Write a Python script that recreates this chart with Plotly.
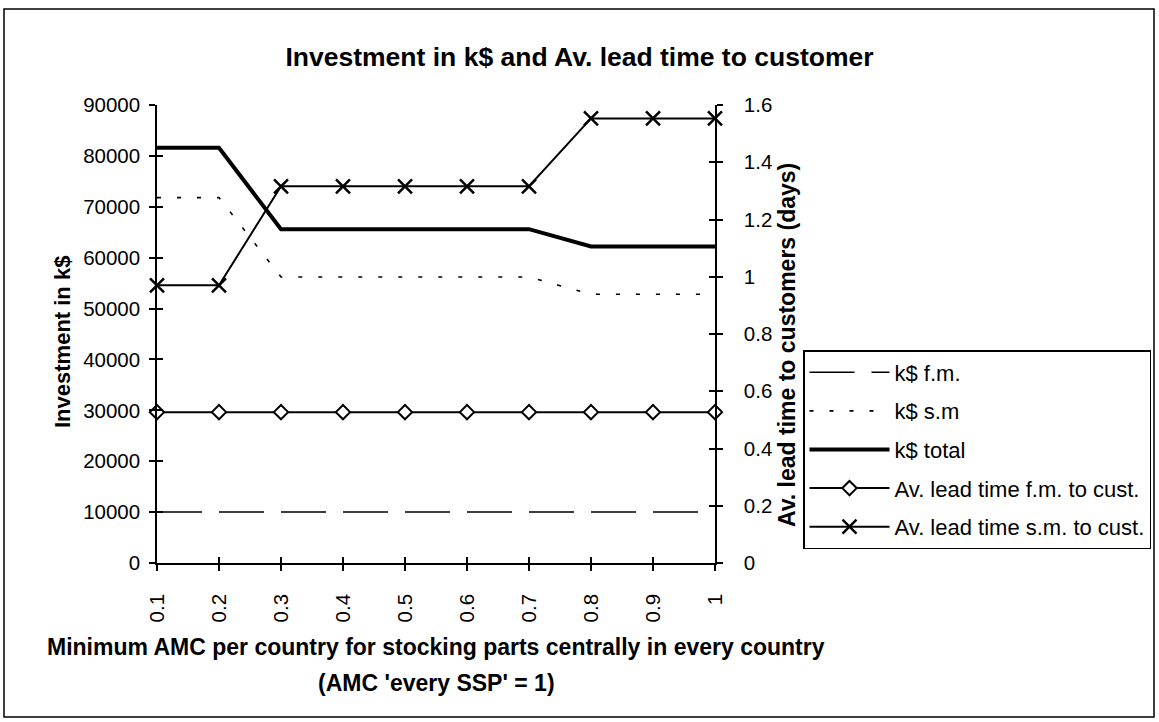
import plotly.graph_objects as go

# ---- data ----
amc = [0.1, 0.2, 0.3, 0.4, 0.5, 0.6, 0.7, 0.8, 0.9, 1.0]
amc_labels = ["0.1", "0.2", "0.3", "0.4", "0.5", "0.6", "0.7", "0.8", "0.9", "1"]
k_fm = [10000, 10000, 10000, 10000, 10000, 10000, 10000, 10000, 10000, 10000]
k_sm = [71800, 71800, 56200, 56200, 56200, 56200, 56200, 52800, 52800, 52800]
k_total = [81600, 81600, 65600, 65600, 65600, 65600, 65600, 62200, 62200, 62200]
lead_fm = [0.527, 0.527, 0.527, 0.527, 0.527, 0.527, 0.527, 0.527, 0.527, 0.527]
lead_sm = [0.97, 0.97, 1.316, 1.316, 1.316, 1.316, 1.316, 1.553, 1.553, 1.553]

left_ticks = [0, 10000, 20000, 30000, 40000, 50000, 60000, 70000, 80000, 90000]
right_ticks = [0, 0.2, 0.4, 0.6, 0.8, 1.0, 1.2, 1.4, 1.6]

FONT = "Arial, Liberation Sans, sans-serif"
W, H = 1159, 722
L, R, T, B = 157, 715, 105, 563


def px(x):
    return (x - L) / (R - L)


def py(y):
    return (B - y) / (B - T)


fig = go.Figure()

fig.add_trace(go.Scatter(x=amc, y=k_fm, name="k$ f.m.", mode="lines",
                         line=dict(color="black", width=1.5, dash="45px,17px"),
                         legendgroup="a", cliponaxis=False))
fig.add_trace(go.Scatter(x=amc, y=k_sm, name="k$ s.m", mode="lines",
                         line=dict(color="black", width=1.6, dash="4px,16px"),
                         legendgroup="b", cliponaxis=False))
fig.add_trace(go.Scatter(x=amc, y=k_total, name="k$ total", mode="lines",
                         line=dict(color="black", width=4),
                         legendgroup="c", cliponaxis=False))
fig.add_trace(go.Scatter(x=amc, y=lead_fm, name="Av. lead time f.m. to cust.",
                         mode="lines+markers", yaxis="y2",
                         line=dict(color="black", width=2),
                         marker=dict(symbol="diamond", size=11, color="white",
                                     line=dict(color="black", width=2)),
                         legendgroup="d", cliponaxis=False))
fig.add_trace(go.Scatter(x=amc, y=lead_sm, name="Av. lead time s.m. to cust.",
                         mode="lines+markers", yaxis="y2",
                         line=dict(color="black", width=2),
                         marker=dict(symbol="x-thin", size=14, color="black",
                                     line=dict(color="black", width=2.5)),
                         legendgroup="e", cliponaxis=False))

# invisible helper traces for the inner halves of the crossing tick marks
fig.add_trace(go.Scatter(x=[amc[0]], y=[0], xaxis="x2", yaxis="y3", mode="markers",
                         marker=dict(opacity=0), showlegend=False, hoverinfo="skip"))
fig.add_trace(go.Scatter(x=[amc[0]], y=[0], yaxis="y4", mode="markers",
                         marker=dict(opacity=0), showlegend=False, hoverinfo="skip"))

tickfont = dict(family=FONT, size=20.5, color="black")
axis_common = dict(showgrid=False, zeroline=False, showline=True, linecolor="black",
                   linewidth=1.5, tickcolor="black", tickwidth=1.5, ticklen=6)

fig.update_layout(
    width=W, height=H,
    margin=dict(l=L, r=W - R, t=T, b=H - B, autoexpand=False),
    paper_bgcolor="white", plot_bgcolor="white",
    font=dict(family=FONT, color="black"),
    title=dict(text="Investment in k$ and Av. lead time to customer",
               x=0.5, xref="container", xanchor="center",
               y=1 - 57 / H, yref="container", yanchor="middle",
               font=dict(family=FONT, size=26.5, color="black", weight="bold")),
    xaxis=dict(range=[amc[0], amc[-1]], tickmode="array", tickvals=amc, ticktext=amc_labels,
               tickangle=-90, ticks="outside", tickfont=tickfont, ticklabelstandoff=15,
               **axis_common),
    xaxis2=dict(range=[amc[0], amc[-1]], overlaying="x", anchor="y3", tickmode="array",
                tickvals=amc, ticks="inside", showticklabels=False, showgrid=False,
                zeroline=False, showline=False, tickcolor="black", tickwidth=1.5, ticklen=6),
    yaxis=dict(range=[0, 90000], tickmode="array", tickvals=left_ticks, tickformat="d",
               ticks="outside", tickfont=tickfont, ticklabelstandoff=5, **axis_common),
    yaxis2=dict(range=[0, 1.6], overlaying="y", side="right", anchor="x", tickmode="array",
                tickvals=right_ticks, ticks="outside", tickfont=tickfont,
                ticklabelstandoff=17, **axis_common),
    yaxis3=dict(range=[0, 90000], overlaying="y", anchor="x2", tickmode="array",
                tickvals=left_ticks, ticks="inside", showticklabels=False, showgrid=False,
                zeroline=False, showline=False, tickcolor="black", tickwidth=1.5, ticklen=6),
    yaxis4=dict(range=[0, 1.6], overlaying="y", side="right", anchor="x", tickmode="array",
                tickvals=right_ticks, ticks="inside", showticklabels=False, showgrid=False,
                zeroline=False, showline=False, tickcolor="black", tickwidth=1.5, ticklen=6),
    legend=dict(x=px(803), y=py(350), xanchor="left", yanchor="top",
                bordercolor="black", borderwidth=1.5, bgcolor="white",
                font=dict(family=FONT, size=22, color="black"),
                itemwidth=80, tracegroupgap=7, traceorder="grouped"),
    showlegend=True,
)

bold = dict(family=FONT, size=22, color="black", weight="bold")
fig.add_annotation(text="Investment in k$", x=px(62), y=py(342), xref="paper", yref="paper",
                   xanchor="center", yanchor="middle",
                   textangle=-90, showarrow=False, font=bold)
fig.add_annotation(text="Av. lead time to customers (days)", x=px(787), y=py(345),
                   xref="paper", yref="paper", xanchor="center", yanchor="middle",
                   textangle=-90, showarrow=False, font=dict(bold, size=23))
xt = dict(family=FONT, size=23, color="black", weight="bold")
fig.add_annotation(text="Minimum AMC per country for stocking parts centrally in every country",
                   x=0.5, y=py(647), xref="paper", yref="paper", xanchor="center",
                   yanchor="middle", showarrow=False, font=xt)
fig.add_annotation(text="(AMC 'every SSP' = 1)", x=0.5, y=py(683), xref="paper", yref="paper",
                   xanchor="center", yanchor="middle", showarrow=False, font=xt)

fig.add_shape(type="rect", xref="paper", yref="paper",
              x0=px(4), x1=px(1154), y0=py(717), y1=py(9),
              line=dict(color="black", width=1.5), layer="below")

fig.write_html("out.html", config={"displayModeBar": False},
               post_script="document.body.style.margin='0';")
